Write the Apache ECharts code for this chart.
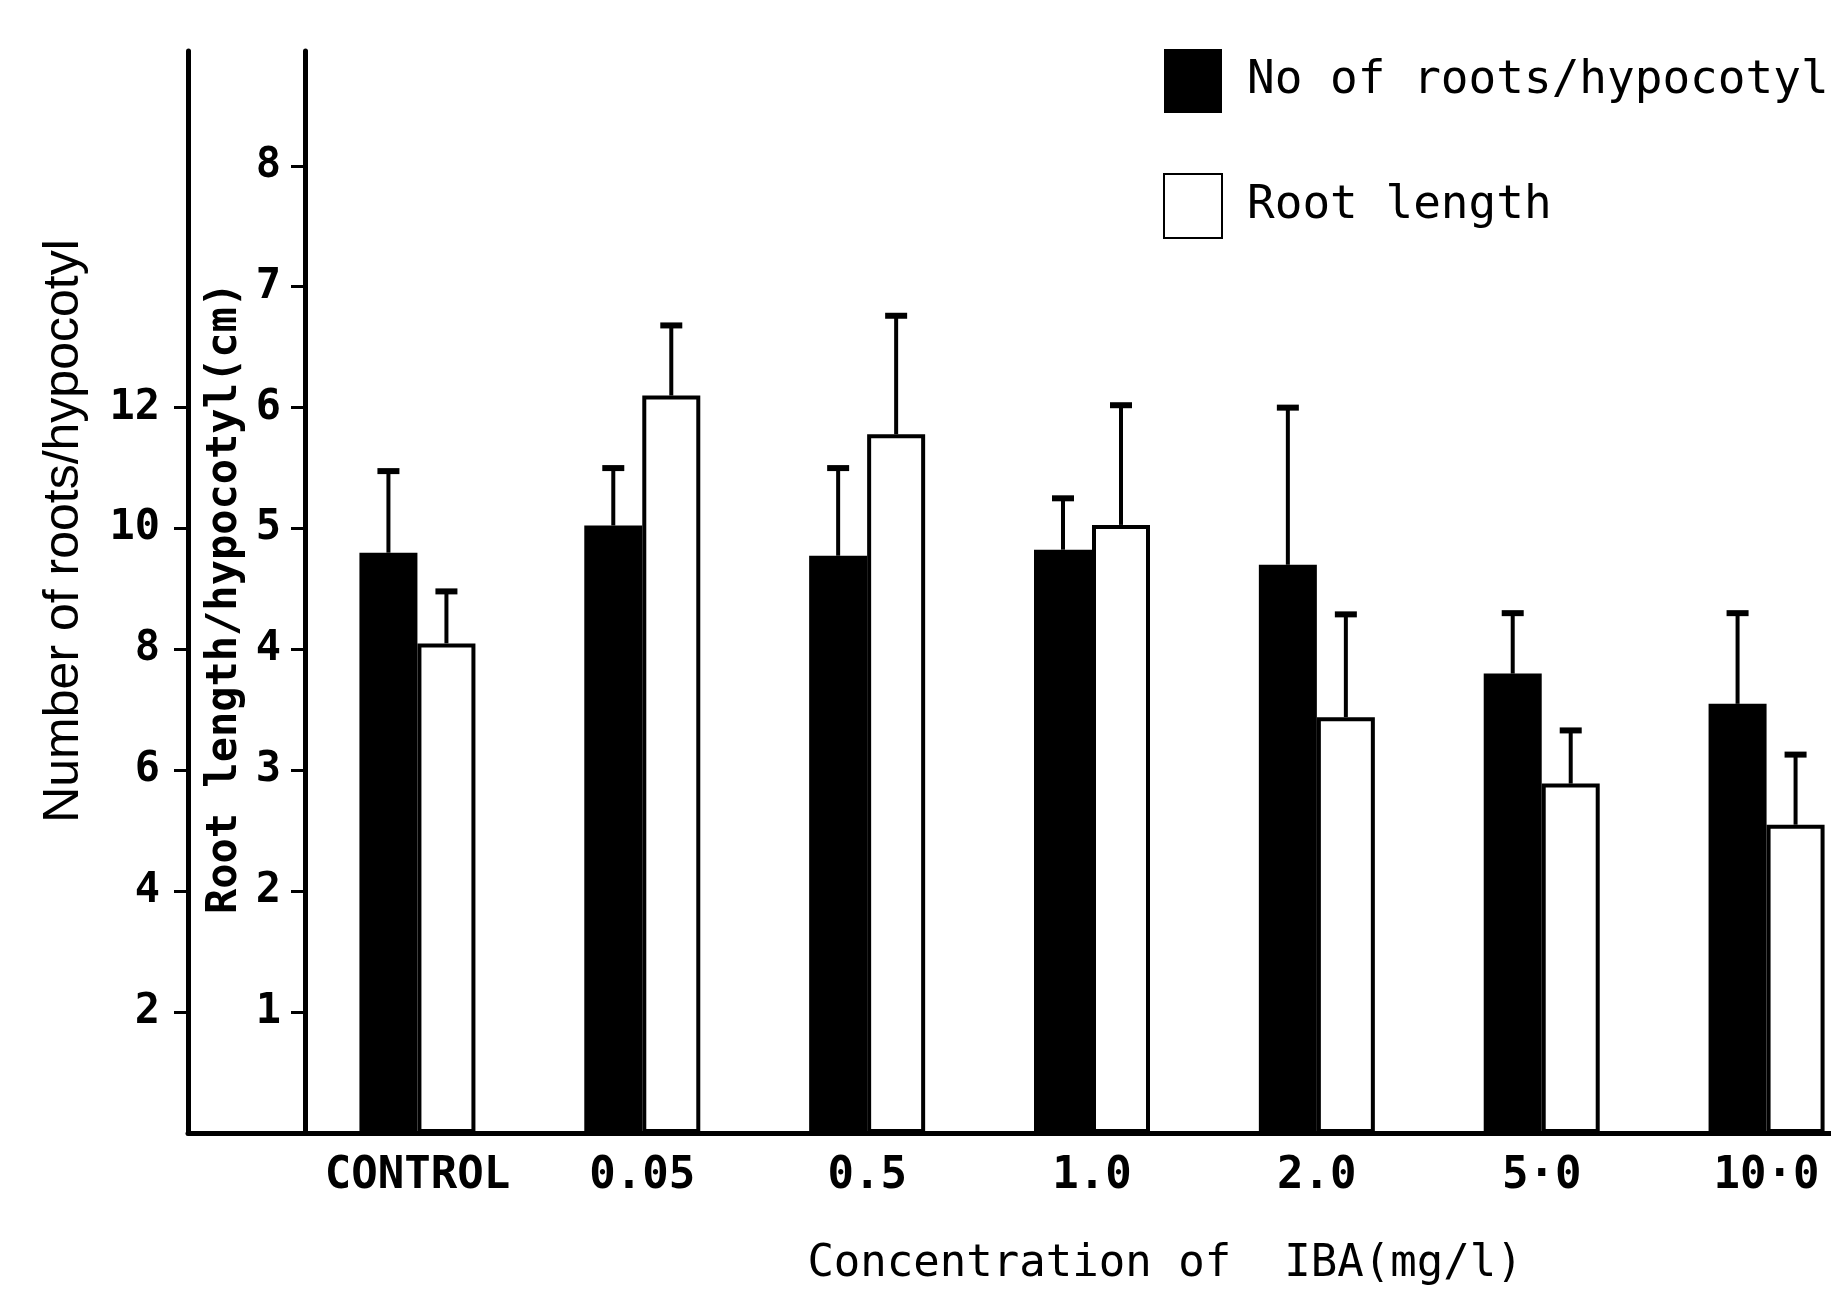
<!DOCTYPE html>
<html>
<head>
<meta charset="utf-8">
<script src="https://cdn.jsdelivr.net/npm/echarts@6/dist/echarts.min.js"></script>
<style>
html,body{margin:0;padding:0;background:#fff;}
#chart{width:1831px;height:1289px;}
</style>
</head>
<body>
<div id="chart"></div>
<script>
// ---- data ----
const categories = ['CONTROL', '0.05', '0.5', '1.0', '2.0', '5·0', '10·0'];
const rootsMean  = [9.6, 10.05, 9.55, 9.65, 9.4, 7.6, 7.1];      // No of roots/hypocotyl
const rootsSE    = [1.35, 0.95, 1.45, 0.85, 2.6, 1.0, 1.5];
const lengthMean = [4.05, 6.1, 5.78, 5.03, 3.44, 2.89, 2.55];    // Root length (cm)
const lengthSE   = [0.43, 0.58, 0.98, 0.99, 0.85, 0.44, 0.58];
const rootTicks   = [2, 4, 6, 8, 10, 12];
const lengthTicks = [1, 2, 3, 4, 5, 6, 7, 8];

const MONO = "'DejaVu Sans Mono', monospace";
const BAR_W = 58;

const chart = echarts.init(document.getElementById('chart'), null, {renderer: 'canvas'});

function errData(means, ses) {
  return means.map((m, i) => [i, m, m + ses[i]]);
}
function errRender(offset) {
  return function (params, api) {
    const i = api.value(0);
    const base = api.coord([i, api.value(1)]);
    const top = api.coord([i, api.value(2)]);
    const x = base[0] + offset;
    return {
      type: 'group',
      children: [
        {type: 'line', shape: {x1: x, y1: base[1], x2: x, y2: top[1]}, style: {stroke: '#000', lineWidth: 4}},
        {type: 'line', shape: {x1: x - 11, y1: top[1], x2: x + 11, y2: top[1]}, style: {stroke: '#000', lineWidth: 6}}
      ]
    };
  };
}

const option = {
  backgroundColor: '#fff',
  animation: false,
  grid: [
    {left: 305, width: 1574, top: 51, bottom: 156, outerBoundsMode: 'none', containLabel: false},
    {left: 188, width: 117, top: 51, bottom: 156, outerBoundsMode: 'none', containLabel: false}
  ],
  legend: {
    orient: 'vertical',
    left: 1158,
    top: 44,
    itemWidth: 58,
    itemHeight: 64,
    itemGap: 60,
    icon: 'rect',
    data: ['No of roots/hypocotyl', 'Root length'],
    textStyle: {fontFamily: MONO, fontSize: 46, color: '#000', padding: [0, 0, 0, 20]}
  },
  xAxis: [
    {
      type: 'category',
      gridIndex: 0,
      data: categories,
      boundaryGap: true,
      axisLine: {show: true, lineStyle: {color: '#000', width: 5}},
      axisTick: {show: false},
      axisLabel: {fontFamily: MONO, fontSize: 44, fontWeight: 'bold', color: '#000', margin: 22, interval: 0},
      name: 'Concentration of  IBA(mg/l)',
      nameLocation: 'middle',
      nameGap: 110,
      nameTextStyle: {fontFamily: MONO, fontSize: 44, color: '#000', padding: [0, 0, 0, 146]}
    },
    {
      type: 'value',
      gridIndex: 1,
      min: 0, max: 1,
      axisLine: {show: true, onZero: false, lineStyle: {color: '#000', width: 5}},
      axisTick: {show: false},
      axisLabel: {show: false},
      splitLine: {show: false}
    }
  ],
  yAxis: [
    {
      type: 'value',
      gridIndex: 0,
      position: 'left',
      offset: 117,
      min: 0, max: 17.9,
      axisLine: {show: true, lineStyle: {color: '#000', width: 5}},
      axisTick: {show: true, length: 14, lineStyle: {color: '#000', width: 3}, customValues: rootTicks},
      axisLabel: {customValues: rootTicks, fontFamily: MONO, fontSize: 42, fontWeight: 'bold', color: '#000', margin: 28},
      splitLine: {show: false}
    },
    {
      type: 'value',
      gridIndex: 0,
      position: 'left',
      offset: 0,
      min: 0, max: 8.95,
      axisLine: {show: true, lineStyle: {color: '#000', width: 5}},
      axisTick: {show: true, length: 14, lineStyle: {color: '#000', width: 3}, customValues: lengthTicks},
      axisLabel: {customValues: lengthTicks, fontFamily: MONO, fontSize: 42, fontWeight: 'bold', color: '#000', margin: 24},
      splitLine: {show: false}
    },
    {
      type: 'value',
      gridIndex: 1,
      show: false,
      min: 0, max: 1
    }
  ],
  graphic: [
    {
      type: 'text', x: 64, y: 531, rotation: Math.PI / 2,
      style: {text: 'Number of roots/hypocotyl', fontFamily: "'Liberation Sans', Arial, sans-serif", fontSize: 50,
              fill: '#000', align: 'center', verticalAlign: 'middle'}
    },
    {
      type: 'text', x: 225, y: 598, rotation: Math.PI / 2,
      style: {text: 'Root length/hypocotyl(cm)', fontFamily: MONO, fontSize: 42, fontWeight: 'bold',
              fill: '#000', align: 'center', verticalAlign: 'middle'}
    }
  ],
  series: [
    {
      name: 'No of roots/hypocotyl',
      type: 'bar',
      xAxisIndex: 0, yAxisIndex: 0,
      data: rootsMean,
      barWidth: BAR_W,
      barGap: '0%',
      itemStyle: {color: '#000'},
      z: 2
    },
    {
      name: 'Root length',
      type: 'bar',
      xAxisIndex: 0, yAxisIndex: 1,
      data: lengthMean,
      barWidth: BAR_W,
      barGap: '0%',
      itemStyle: {color: '#fff', borderColor: '#000', borderWidth: 4},
      z: 2
    },
    {
      name: 'rootsErr',
      type: 'custom',
      xAxisIndex: 0, yAxisIndex: 0,
      data: errData(rootsMean, rootsSE),
      renderItem: errRender(-BAR_W / 2),
      encode: {x: 0, y: [1, 2]},
      z: 3
    },
    {
      name: 'lengthErr',
      type: 'custom',
      xAxisIndex: 0, yAxisIndex: 1,
      data: errData(lengthMean, lengthSE),
      renderItem: errRender(BAR_W / 2),
      encode: {x: 0, y: [1, 2]},
      z: 3
    }
  ]
};
chart.setOption(option);
</script>
</body>
</html>
